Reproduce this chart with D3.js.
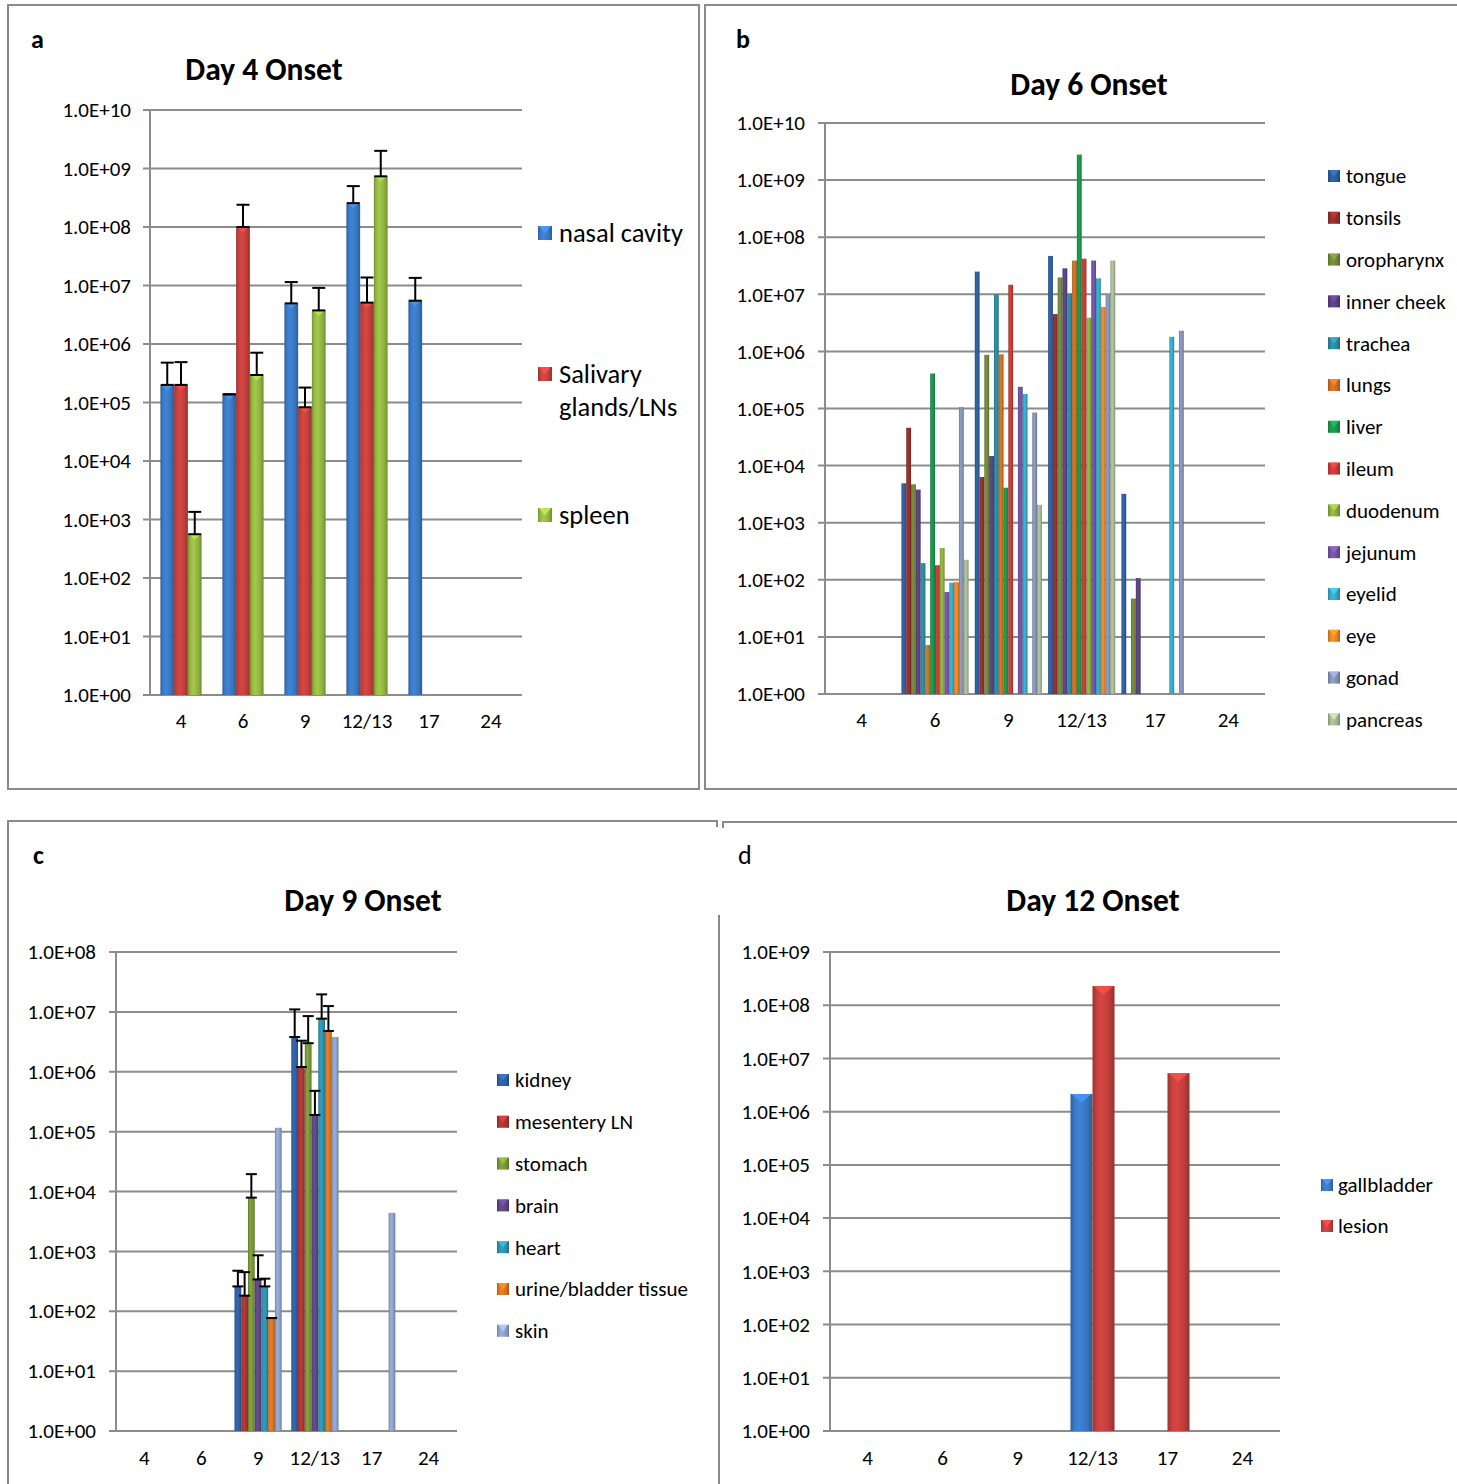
<!DOCTYPE html>
<html>
<head>
<meta charset="utf-8">
<script src="https://cdn.jsdelivr.net/npm/d3@7"></script>
<style>
body { margin: 0; background: #fff; }
text { font-family: Carlito, Lato, "Open Sans", sans-serif; fill: #000; }
</style>
</head>
<body>
<script>

// shared x categories (days post infection)
var categories = ["4", "6", "9", "12/13", "17", "24"];

// y tick labels for each panel
var ticks10 = ["1.0E+00", "1.0E+01", "1.0E+02", "1.0E+03", "1.0E+04", "1.0E+05",
	"1.0E+06", "1.0E+07", "1.0E+08", "1.0E+09", "1.0E+10"];
var ticks8 = ticks10.slice(0, 9);
var ticks9 = ticks10.slice(0, 10);

// a: Day 4 onset
var aSeries = ["nasal cavity", "Salivary glands/LNs", "spleen"];
var aColors = ["#3b7bc8", "#c8413d", "#98bb45"];
var aValues = [
	[2.0e5, 1.38e5, 4.95e6, 2.56e8, 5.5e6, null],
	[2.0e5, 1.0e8, 8.3e4, 5.1e6, null, null],
	[560, 2.95e5, 3.75e6, 7.35e8, null, null]
];
var aErrors = [
	[2.8e5, 0, 6.5e6, 2.44e8, 8.0e6, null],
	[2.9e5, 1.4e8, 9.7e4, 8.6e6, null, null],
	[790, 4.15e5, 5.35e6, 1.27e9, null, null]
];

// b: Day 6 onset
var bSeries = ["tongue", "tonsils", "oropharynx", "inner cheek", "trachea", "lungs", "liver",
	"ileum", "duodenum", "jejunum", "eyelid", "eye", "gonad", "pancreas"];
var bColors = ["#2f5f9e", "#93302d", "#71893a", "#5b4282", "#2b8ba3", "#d0701f", "#18974a",
	"#c63c3a", "#8db03e", "#7355a3", "#36aac9", "#f08524", "#8595b9", "#a9ba95"];
var bValues = [
	[null, 4.9e3, 2.5e7, 4.7e7, 3.2e3, null],
	[null, 4.6e4, 6.3e3, 4.5e6, null, null],
	[null, 4.7e3, 8.7e5, 1.97e7, 47, null],
	[null, 3.8e3, 1.47e4, 2.85e7, 107, null],
	[null, 196, 1.0e7, 1.03e7, null, null],
	[null, 7.2, 8.9e5, 3.9e7, null, null],
	[null, 4.1e5, 4.1e3, 2.8e9, null, null],
	[null, 180, 1.47e7, 4.2e7, null, null],
	[null, 360, null, 3.9e6, null, null],
	[null, 61, 2.4e5, 3.9e7, null, null],
	[null, 89, 1.8e5, 1.9e7, 1.8e6, null],
	[null, 91, null, 6.0e6, null, null],
	[null, 1.06e5, 8.5e4, 1.0e7, 2.3e6, null],
	[null, 224, 2.06e3, 3.9e7, null, null]
];

// c: Day 9 onset
var cSeries = ["kidney", "mesentery LN", "stomach", "brain", "heart", "urine/bladder tissue", "skin"];
var cColors = ["#2f62a6", "#b03533", "#7a9a3a", "#5f4787", "#2f94b0", "#dc7722", "#8ea4cf"];
var cValues = [
	[null, null, 260, 3.8e6, null, null],
	[null, null, 182, 1.2e6, null, null],
	[null, null, 7.9e3, 3.0e6, null, null],
	[null, null, 340, 1.9e5, null, null],
	[null, null, 260, 7.7e6, null, null],
	[null, null, 77, 4.8e6, null, null],
	[null, null, 1.16e5, 3.8e6, 4.4e3, null]
];
var cErrors = [
	[null, null, 215, 7.2e6, null, null],
	[null, null, 268, 2.1e6, null, null],
	[null, null, 1.16e4, 5.5e6, null, null],
	[null, null, 520, 2.9e5, null, null],
	[null, null, 90, 1.19e7, null, null],
	[null, null, 0, 7.7e6, null, null],
	[null, null, null, null, null, null]
];

// d: Day 12 onset
var dSeries = ["gallbladder", "lesion"];
var dColors = ["#3b7bc8", "#c8413d"];
var dValues = [
	[null, null, null, 2.15e6, null, null],
	[null, null, null, 2.3e8, 5.3e6, null]
];

var width = 1457,
	height = 1484;

var svg = d3.select("body").append("svg")
	.attr("width", width)
	.attr("height", height)
	.style("display", "block");

var defs = svg.append("defs");

// cylinder-ish shading like the excel bevel bars
function grad(color) {
	var id = "g" + color.slice(1);
	if (!document.getElementById(id)) {
		var c = d3.color(color);
		var lg = defs.append("linearGradient").attr("id", id)
			.attr("x1", 0).attr("x2", 1).attr("y1", 0).attr("y2", 0);
		lg.append("stop").attr("offset", "0%").attr("stop-color", c.darker(0.7));
		lg.append("stop").attr("offset", "20%").attr("stop-color", c);
		lg.append("stop").attr("offset", "40%").attr("stop-color", c.brighter(0.2));
		lg.append("stop").attr("offset", "75%").attr("stop-color", c.darker(0.15));
		lg.append("stop").attr("offset", "100%").attr("stop-color", c.darker(0.8));
	}
	return "url(#" + id + ")";
}

// panel borders
svg.append("rect").attr("x", 8).attr("y", 5).attr("width", 691).attr("height", 784)
	.attr("fill", "none").attr("stroke", "#8a8a8a").attr("stroke-width", 2);
svg.append("rect").attr("x", 705).attr("y", 5).attr("width", 770).attr("height", 784)
	.attr("fill", "none").attr("stroke", "#8a8a8a").attr("stroke-width", 2);
svg.append("path").attr("d", "M8,1500V821H717V827M719,915V1500")
	.attr("fill", "none").attr("stroke", "#8a8a8a").attr("stroke-width", 2);
svg.append("path").attr("d", "M723,828V822H1470")
	.attr("fill", "none").attr("stroke", "#8a8a8a").attr("stroke-width", 2);

function drawPanel(p) {
	var g = svg.append("g");

	var y = d3.scaleLog()
		.domain([1, Math.pow(10, p.ticks.length - 1)])
		.range([p.yBot, p.yTop]);

	var x = d3.scaleBand()
		.domain(categories)
		.range([p.x0, p.x1]);

	var tickVals = p.ticks.map(function(t, i) { return Math.pow(10, i); });

	// gridlines
	g.selectAll(".grid")
		.data(tickVals)
		.enter().append("line")
		.attr("x1", p.x0 - 7)
		.attr("x2", p.x1)
		.attr("y1", function(d) { return y(d); })
		.attr("y2", function(d) { return y(d); })
		.attr("stroke", "#8c8c8c")
		.attr("stroke-width", 2);

	g.append("line")
		.attr("x1", p.x0).attr("x2", p.x0)
		.attr("y1", p.yTop).attr("y2", p.yBot)
		.attr("stroke", "#8c8c8c")
		.attr("stroke-width", 2);

	var yAxis = d3.axisLeft(y)
		.tickValues(tickVals)
		.tickSize(0)
		.tickPadding(p.x0 - p.labelRight)
		.tickFormat(function(d, i) { return p.ticks[i]; });

	g.append("g")
		.attr("transform", "translate(" + p.x0 + ",0)")
		.call(yAxis)
		.call(function(a) { a.select(".domain").remove(); })
		.selectAll("text")
		.style("font-size", "21px")
		.style("font-family", null);

	var xAxis = d3.axisBottom(x)
		.tickSize(0)
		.tickPadding(p.catPad);

	g.append("g")
		.attr("transform", "translate(0," + p.yBot + ")")
		.call(xAxis)
		.call(function(a) { a.select(".domain").remove(); })
		.selectAll("text")
		.style("font-size", "21px")
		.style("font-family", null);

	var n = p.series.length;
	var groupW = x.bandwidth() * p.groupFrac;
	var bw = groupW / n;

	function bx(c, s) {
		return x(c) + (x.bandwidth() - groupW) / 2 + s * bw;
	}

	var bars = [];
	p.values.forEach(function(row, s) {
		row.forEach(function(v, ci) {
			if (v == null) return;
			bars.push({ s: s, c: categories[ci], v: v,
				e: p.errors ? p.errors[s][ci] : null });
		});
	});

	g.selectAll(".bar")
		.data(bars)
		.enter().append("rect")
		.attr("x", function(d) { return bx(d.c, d.s); })
		.attr("y", function(d) { return y(d.v); })
		.attr("width", bw)
		.attr("height", function(d) { return p.yBot - y(d.v); })
		.attr("fill", function(d) { return grad(p.colors[d.s]); });

	// light bevel triangle on top of wide bars
	if (bw > 10) {
		g.selectAll(".bevel")
			.data(bars)
			.enter().append("path")
			.attr("d", function(d) {
				var x0 = bx(d.c, d.s), y0 = y(d.v);
				return "M" + (x0 + 1) + "," + y0 + "H" + (x0 + bw - 1) +
					"L" + (x0 + bw / 2) + "," + (y0 + bw * 0.4) + "Z";
			})
			.attr("fill", function(d) { return d3.color(p.colors[d.s]).brighter(0.6); })
			.attr("opacity", 0.8);
	}

	// error bars (plus direction, caps at both ends)
	var eb = bars.filter(function(d) { return d.e != null; });
	var eg = g.selectAll(".err")
		.data(eb)
		.enter().append("g")
		.attr("stroke", "#000")
		.attr("stroke-width", 2);
	eg.append("line")
		.attr("x1", function(d) { return bx(d.c, d.s) + bw / 2; })
		.attr("x2", function(d) { return bx(d.c, d.s) + bw / 2; })
		.attr("y1", function(d) { return y(d.v); })
		.attr("y2", function(d) { return y(d.v + d.e); });
	eg.append("line")
		.attr("x1", function(d) { return bx(d.c, d.s) + bw / 2 - p.capW / 2; })
		.attr("x2", function(d) { return bx(d.c, d.s) + bw / 2 + p.capW / 2; })
		.attr("y1", function(d) { return y(d.v + d.e); })
		.attr("y2", function(d) { return y(d.v + d.e); });
	eg.append("line")
		.attr("x1", function(d) { return bx(d.c, d.s) + bw / 2 - p.capW / 2; })
		.attr("x2", function(d) { return bx(d.c, d.s) + bw / 2 + p.capW / 2; })
		.attr("y1", function(d) { return y(d.v); })
		.attr("y2", function(d) { return y(d.v); });

	// title + panel letter
	g.append("text")
		.attr("x", p.titleX).attr("y", p.titleY)
		.attr("text-anchor", "middle")
		.style("font-size", "31.5px")
		.style("font-weight", "bold")
		.text(p.title);
	g.append("text")
		.attr("x", p.letterX).attr("y", p.letterY)
		.style("font-size", "26px")
		.style("font-weight", p.letterBold ? "bold" : "normal")
		.text(p.letter);

	// legend
	var lg = g.selectAll(".leg")
		.data(p.series)
		.enter().append("g")
		.attr("transform", function(d, i) {
			return "translate(" + p.legX + "," + (p.legY[i]) + ")";
		});
	lg.append("rect")
		.attr("x", 0).attr("y", -p.legBox / 2)
		.attr("width", p.legBox).attr("height", p.legBox)
		.attr("fill", function(d, i) { return grad(p.colors[i]); });
	lg.append("path")
		.attr("d", "M1," + (-p.legBox / 2) + "H" + (p.legBox - 1) + "L" + (p.legBox / 2) + "," + (p.legBox * 0.05) + "Z")
		.attr("fill", function(d, i) { return d3.color(p.colors[i]).brighter(0.7); })
		.attr("opacity", 0.8);
	lg.each(function(d) {
		var t = d3.select(this).append("text")
			.style("font-size", p.legFont + "px");
		var lines = p.legWrap && p.legWrap[d] ? p.legWrap[d] : [d];
		lines.forEach(function(l, k) {
			t.append("tspan")
				.attr("x", p.legBox + p.legGap)
				.attr("dy", k === 0 ? "0.35em" : "1.22em")
				.text(l);
		});
	});
}

drawPanel({
	x0: 150, x1: 522, yTop: 110, yBot: 695, labelRight: 131, catPad: 18,
	ticks: ticks10, series: aSeries, colors: aColors, values: aValues, errors: aErrors,
	groupFrac: 0.665, capW: 13,
	title: "Day 4 Onset", titleX: 264, titleY: 80, letter: "a", letterX: 31, letterY: 48, letterBold: true,
	legX: 538, legY: [233, 374, 515], legBox: 14, legGap: 7, legFont: 26.5,
	legWrap: { "Salivary glands/LNs": ["Salivary", "glands/LNs"] }
});

drawPanel({
	x0: 825, x1: 1265, yTop: 123, yBot: 694, labelRight: 805, catPad: 18,
	ticks: ticks10, series: bSeries, colors: bColors, values: bValues, errors: null,
	groupFrac: 0.915, capW: 0,
	title: "Day 6 Onset", titleX: 1089, titleY: 95, letter: "b", letterX: 736, letterY: 48, letterBold: true,
	legX: 1328, legY: bSeries.map(function(d, i) { return 176 + i * 41.8; }), legBox: 12, legGap: 6, legFont: 21
});

drawPanel({
	x0: 116, x1: 457, yTop: 952, yBot: 1431, labelRight: 96, catPad: 19,
	ticks: ticks8, series: cSeries, colors: cColors, values: cValues, errors: cErrors,
	groupFrac: 0.83, capW: 11,
	title: "Day 9 Onset", titleX: 363, titleY: 911, letter: "c", letterX: 33, letterY: 864, letterBold: true,
	legX: 497, legY: cSeries.map(function(d, i) { return 1080 + i * 41.8; }), legBox: 12, legGap: 6, legFont: 21
});

drawPanel({
	x0: 830, x1: 1280, yTop: 952, yBot: 1431, labelRight: 810, catPad: 19,
	ticks: ticks9, series: dSeries, colors: dColors, values: dValues, errors: null,
	groupFrac: 0.587, capW: 0,
	title: "Day 12 Onset", titleX: 1093, titleY: 911, letter: "d", letterX: 738, letterY: 864, letterBold: false,
	legX: 1321, legY: [1185, 1226], legBox: 12, legGap: 5, legFont: 21
});

</script>
</body>
</html>
